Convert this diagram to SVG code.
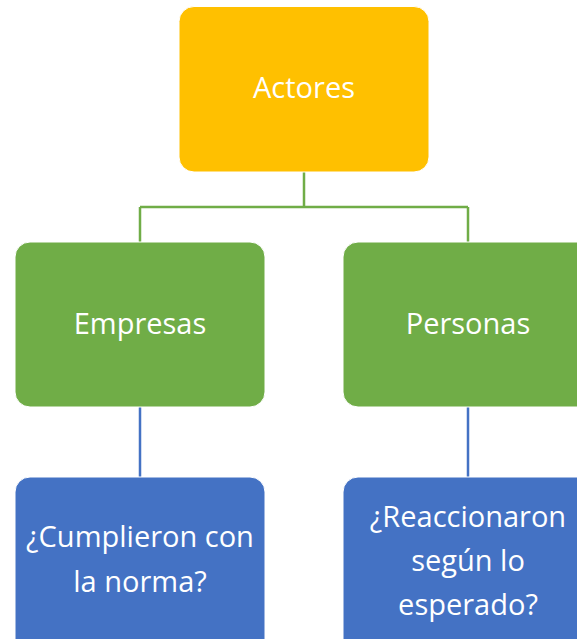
<svg xmlns="http://www.w3.org/2000/svg" width="577" height="639" viewBox="0 0 577 639">
<style>
.box{stroke:#ffffff;stroke-width:1}
.gold{fill:#FFC000}
.green{fill:#70AD47}
.blue{fill:#4472C4}
.t{font-family:"Open Sans","Noto Sans","Liberation Sans",sans-serif;font-size:29px;fill:#ffffff;text-anchor:middle}
.cg{stroke:#70AD47;stroke-width:2.5;fill:none}
.cb{stroke:#4472C4;stroke-width:2.5;fill:none}
</style>
<rect width="577" height="639" fill="#ffffff"/>
<g id="connectors">
<path class="cg" d="M304,172 V207 M140,207 H468 M140,207 V242 M468,207 V242"/>
<path class="cb" d="M140,407 V477 M468,407 V477"/>
</g>
<g id="actores">
<rect class="box gold" x="179" y="6.5" width="250" height="165.5" rx="15"/>
<text class="t" x="304" y="98">Actores</text>
</g>
<g id="empresas">
<rect class="box green" x="15" y="242" width="250" height="165" rx="15"/>
<text class="t" x="140" y="334">Empresas</text>
</g>
<g id="personas">
<rect class="box green" x="343" y="242" width="250" height="165" rx="15"/>
<text class="t" x="468" y="334">Personas</text>
</g>
<g id="cumplieron">
<rect class="box blue" x="15" y="477" width="250" height="180" rx="15"/>
<text class="t" x="140" y="547">¿Cumplieron con</text>
<text class="t" x="140" y="592">la norma?</text>
</g>
<g id="reaccionaron">
<rect class="box blue" x="343" y="477" width="250" height="180" rx="15"/>
<text class="t" x="468" y="527">¿Reaccionaron</text>
<text class="t" x="468" y="571">según lo</text>
<text class="t" x="468" y="615">esperado?</text>
</g>
</svg>
